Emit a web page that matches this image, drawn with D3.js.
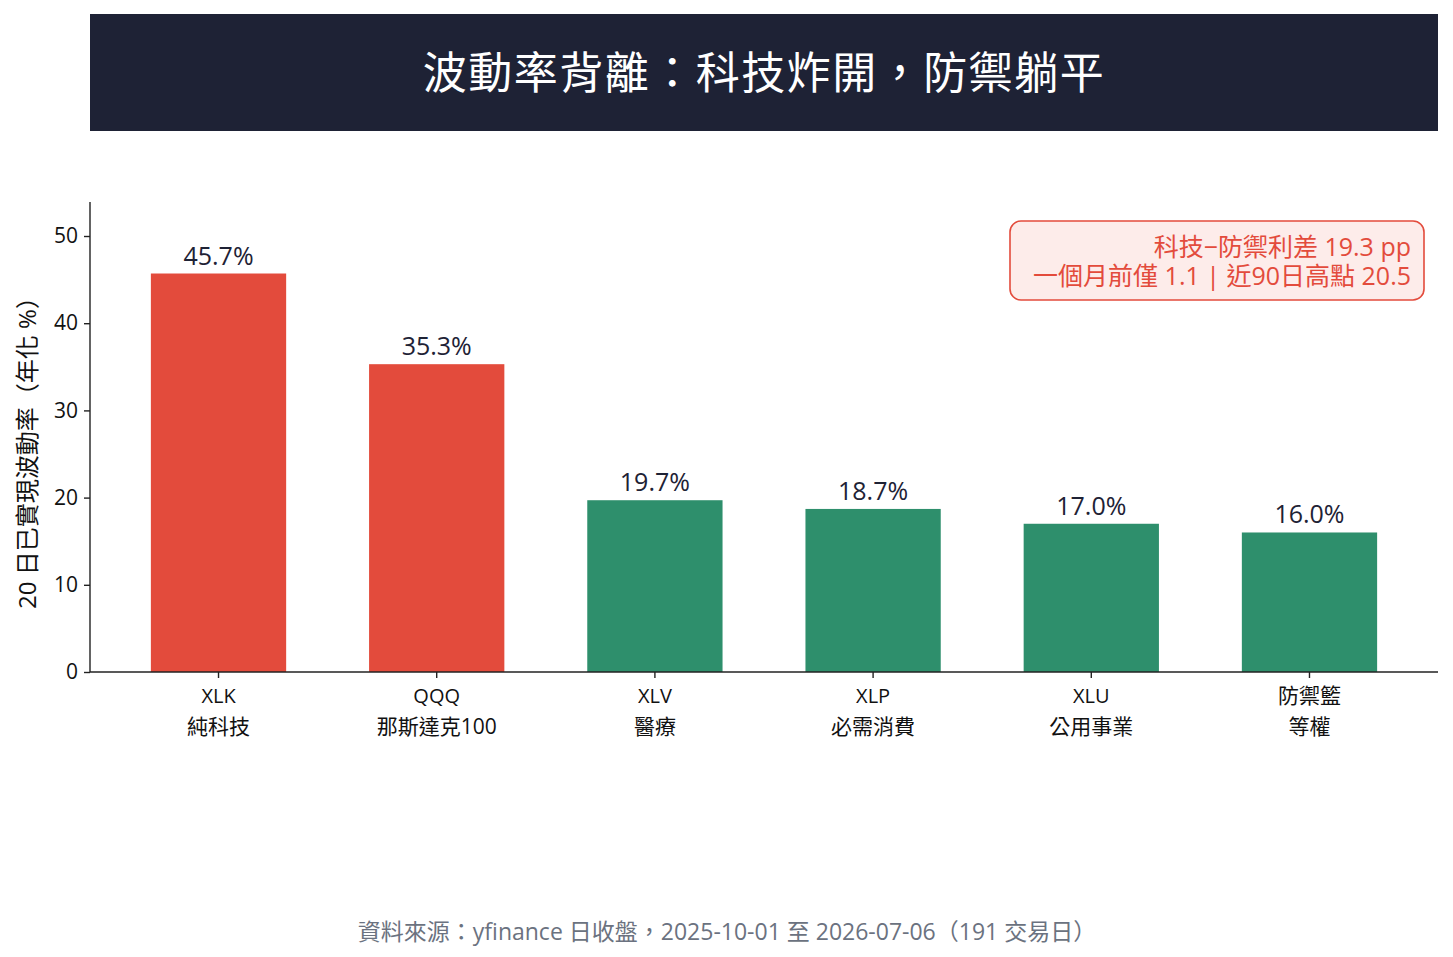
<!DOCTYPE html>
<html>
<head>
<meta charset="utf-8">
<script src="https://cdn.jsdelivr.net/npm/d3@7"></script>
<style>
  body { margin: 0; background: #fff; }
  svg { display: block; font-family: "Open Sans", "Noto Sans CJK TC", sans-serif; }
</style>
</head>
<body>
<svg width="1453" height="957"></svg>
<script>
var tickers = ["XLK", "QQQ", "XLV", "XLP", "XLU", "防禦籃"];
var names = ["純科技", "那斯達克100", "醫療", "必需消費", "公用事業", "等權"];
var vols = [45.7, 35.3, 19.7, 18.7, 17.0, 16.0];
var groups = ["tech", "tech", "def", "def", "def", "def"];
var yTicks = [0, 10, 20, 30, 40, 50];

var title = "波動率背離：科技炸開，防禦躺平";
var yLabel = "20 日已實現波動率（年化 %）";
var noteLines = ["科技−防禦利差 19.3 pp", "一個月前僅 1.1 | 近90日高點 20.5"];
var footer = "資料來源：yfinance 日收盤，2025-10-01 至 2026-07-06（191 交易日）";

var red = "#e34b3c", green = "#2e8f6c", ink = "#1e2235";

var svg = d3.select("svg");
var plotL = 90, plotR = 1438, plotT = 202, plotB = 672;

// header banner
svg.append("rect")
  .attr("x", plotL).attr("y", 14)
  .attr("width", plotR - plotL).attr("height", 117)
  .attr("fill", ink);
svg.append("text")
  .attr("x", (plotL + plotR) / 2).attr("y", 89)
  .attr("text-anchor", "middle")
  .attr("fill", "#fff")
  .style("font-size", "44px")
  .style("letter-spacing", "1.5px")
  .text(title);

var x = d3.scaleBand()
  .domain(tickers)
  .range([plotL, plotR])
  .paddingInner(0.38)
  .paddingOuter(0.279);

var y = d3.scaleLinear()
  .domain([0, 53.9])
  .range([plotB, plotT]);

// bars
svg.append("g").selectAll("rect")
  .data(vols)
  .enter().append("rect")
  .attr("x", (d, i) => x(tickers[i]))
  .attr("y", d => y(d))
  .attr("width", x.bandwidth())
  .attr("height", d => y(0) - y(d))
  .attr("fill", (d, i) => groups[i] == "tech" ? red : green);

// value labels
svg.append("g").selectAll("text")
  .data(vols)
  .enter().append("text")
  .attr("x", (d, i) => x(tickers[i]) + x.bandwidth() / 2)
  .attr("y", d => y(d) - 9)
  .attr("text-anchor", "middle")
  .attr("fill", ink)
  .style("font-size", "25px")
  .text(d => d.toFixed(1) + "%");

// axes
var yAxis = svg.append("g")
  .attr("transform", "translate(" + plotL + ",0)")
  .call(d3.axisLeft(y).tickValues(yTicks).tickSize(6).tickPadding(6));
yAxis.select(".domain").attr("stroke", "#222").attr("stroke-width", 1.4)
  .attr("d", "M0," + plotB + "V" + plotT);
yAxis.selectAll(".tick line").attr("stroke", "#222").attr("stroke-width", 1.4);
yAxis.selectAll(".tick text")
  .style("font-size", "21px")
  .style("font-family", "'Open Sans', sans-serif")
  .attr("fill", "#111");

var xAxis = svg.append("g")
  .attr("transform", "translate(0," + plotB + ")")
  .call(d3.axisBottom(x).tickSize(6).tickFormat(""));
xAxis.select(".domain").attr("stroke", "#222").attr("stroke-width", 1.4)
  .attr("d", "M" + plotL + ",0H" + plotR);
xAxis.selectAll(".tick line").attr("stroke", "#222").attr("stroke-width", 1.4);
xAxis.selectAll(".tick text").remove();

// two-line category labels: ticker on top, name below
var lbl = svg.append("g");
lbl.selectAll("text.tk")
  .data(tickers)
  .enter().append("text")
  .attr("class", "tk")
  .attr("x", d => x(d) + x.bandwidth() / 2).attr("y", 703)
  .attr("text-anchor", "middle")
  .attr("fill", "#111")
  .style("font-size", d => /^[A-Z]+$/.test(d) ? "20px" : "21px")
  .text(d => d);
lbl.selectAll("text.nm")
  .data(names)
  .enter().append("text")
  .attr("class", "nm")
  .attr("x", (d, i) => x(tickers[i]) + x.bandwidth() / 2).attr("y", 734)
  .attr("text-anchor", "middle")
  .attr("fill", "#111")
  .style("font-size", "21px")
  .text(d => d);

// y label
svg.append("text")
  .attr("transform", "translate(36," + ((plotT + plotB) / 2 + 10) + ") rotate(-90)")
  .attr("text-anchor", "middle")
  .attr("fill", "#111")
  .style("font-size", "24px")
  .text(yLabel);

// spread note
svg.append("rect")
  .attr("x", 1010).attr("y", 221)
  .attr("width", 414).attr("height", 79)
  .attr("rx", 11)
  .attr("fill", "#fdecea")
  .attr("stroke", red)
  .attr("stroke-width", 1.6);
svg.append("g").selectAll("text")
  .data(noteLines)
  .enter().append("text")
  .attr("x", 1411)
  .attr("y", (d, i) => 256 + i * 29)
  .attr("text-anchor", "end")
  .attr("fill", red)
  .style("font-size", "25px")
  .text(d => d);

// footer
svg.append("text")
  .attr("x", 727).attr("y", 940)
  .attr("text-anchor", "middle")
  .attr("fill", "#6b7280")
  .style("font-size", "23px")
  .text(footer);
</script>
</body>
</html>
